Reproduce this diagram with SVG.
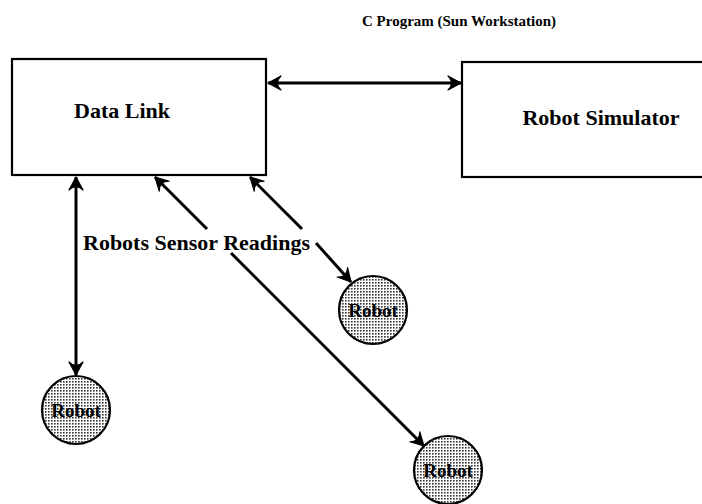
<svg xmlns="http://www.w3.org/2000/svg" width="702" height="504" viewBox="0 0 702 504">
<style>
.box{fill:#fff;stroke:#000;stroke-width:2.2}
.lbl{font-family:"Liberation Serif","Times New Roman",serif;font-weight:bold;fill:#000}
.big{font-size:22px}
.rob{font-size:19px}
.conn{stroke:#000;stroke-width:3;fill:none}
.circ{fill:url(#dots);stroke:#000;stroke-width:2.2}
</style>
<defs>
<pattern id="dots" width="3" height="3" patternUnits="userSpaceOnUse">
<rect width="3" height="3" fill="#fff"/>
<rect width="1.6" height="1.6" fill="#333"/>
</pattern>
<marker id="ah" viewBox="-15 -8 16 16" refX="0" refY="0" markerWidth="16" markerHeight="16" markerUnits="userSpaceOnUse" orient="auto-start-reverse">
<path d="M0,0 L-13,-7 Q-9,-3 -10,0 Q-9,3 -13,7 Z" fill="#000" stroke="#000" stroke-width="1.2" stroke-linejoin="round"/>
</marker>
</defs>
<text class="lbl" x="362" y="26" font-size="15">C Program (Sun Workstation)</text>
<g id="datalink">
<rect class="box" x="12" y="59" width="254" height="116"/>
<text class="lbl big" x="122" y="118" text-anchor="middle">Data Link</text>
</g>
<g id="simulator">
<rect class="box" x="462" y="62" width="250" height="115"/>
<text class="lbl big" x="601" y="125" text-anchor="middle">Robot Simulator</text>
</g>
<g id="robot1">
<circle class="circ" cx="76" cy="410" r="34"/>
<text class="lbl rob" x="76" y="417" text-anchor="middle">Robot</text>
</g>
<g id="robot2">
<circle class="circ" cx="373" cy="310" r="34"/>
<text class="lbl rob" x="373" y="317" text-anchor="middle">Robot</text>
</g>
<g id="robot3">
<circle class="circ" cx="448" cy="470" r="34"/>
<text class="lbl rob" x="448" y="477" text-anchor="middle">Robot</text>
</g>
<g id="connectors">
<line class="conn" x1="268" y1="83" x2="461" y2="83" marker-start="url(#ah)" marker-end="url(#ah)"/>
<line class="conn" x1="76" y1="177" x2="76" y2="375" marker-start="url(#ah)" marker-end="url(#ah)"/>
<line class="conn" x1="155" y1="177" x2="207" y2="229" marker-start="url(#ah)"/>
<line class="conn" x1="231" y1="253" x2="424" y2="446" marker-end="url(#ah)"/>
<line class="conn" x1="250" y1="177" x2="302" y2="229" marker-start="url(#ah)"/>
<line class="conn" x1="316" y1="243" x2="351" y2="282" marker-end="url(#ah)"/>
</g>
<text class="lbl big" x="83" y="250">Robots Sensor Readings</text>
</svg>
